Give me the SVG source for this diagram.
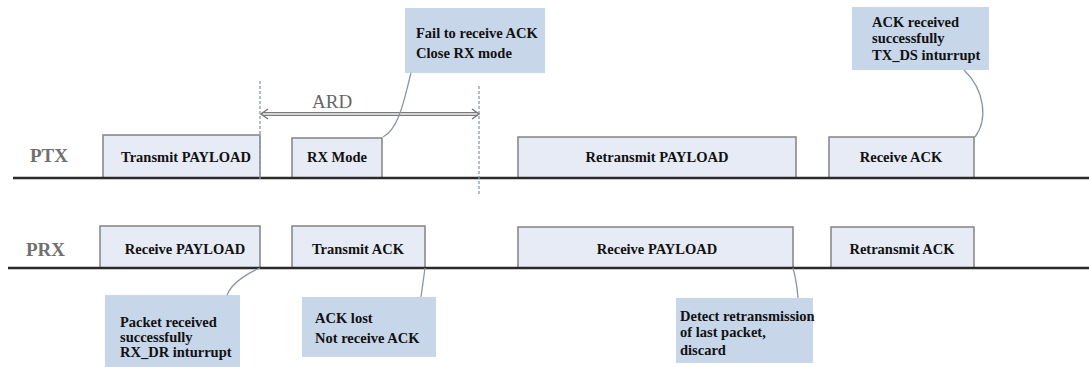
<svg xmlns="http://www.w3.org/2000/svg" width="1089" height="367" viewBox="0 0 1089 367">
<style>
.bg{fill:#ffffff}
.base{stroke:#2a2a2a;stroke-width:2.5;fill:none}
.box{fill:#e6ebf5;stroke:#8a8a8a;stroke-width:1.6}
.call{fill:#c8d6ea;stroke:none}
.lead{fill:none;stroke:#8a96a6;stroke-width:1.3}
.dash{stroke:#8a9aaa;stroke-width:1.3;stroke-dasharray:3,2;fill:none}
.t{font-family:'Liberation Serif','Times New Roman',serif;font-weight:bold;font-size:14.5px;fill:#111}
.lbl{font-family:'Liberation Serif','Times New Roman',serif;font-size:19px;fill:#666}
.row{font-family:'Liberation Serif','Times New Roman',serif;font-size:19px;font-weight:bold;fill:#707070}
</style>
<rect class="bg" x="0" y="0" width="1089" height="367"/>

<g id="labels">
<text class="row" x="30" y="162">PTX</text>
<text class="row" x="26" y="256">PRX</text>
<text class="lbl" x="312" y="108">ARD</text>
</g>

<g id="ptx-tx-payload">
<rect class="box" x="103" y="135" width="157" height="43"/>
<text class="t" x="186" y="162" text-anchor="middle">Transmit PAYLOAD</text>
</g>
<g id="ptx-rx-mode">
<rect class="box" x="292" y="138" width="90" height="40"/>
<text class="t" x="337" y="162" text-anchor="middle">RX Mode</text>
</g>
<g id="ptx-retx-payload">
<rect class="box" x="518" y="137" width="278" height="41"/>
<text class="t" x="657" y="162" text-anchor="middle">Retransmit PAYLOAD</text>
</g>
<g id="ptx-rx-ack">
<rect class="box" x="829" y="137" width="145" height="41"/>
<text class="t" x="901" y="162" text-anchor="middle">Receive ACK</text>
</g>

<g id="prx-rx-payload">
<rect class="box" x="100" y="226" width="160" height="42"/>
<text class="t" x="185" y="254" text-anchor="middle">Receive PAYLOAD</text>
</g>
<g id="prx-tx-ack">
<rect class="box" x="292" y="226" width="133" height="42"/>
<text class="t" x="358" y="254" text-anchor="middle">Transmit ACK</text>
</g>
<g id="prx-rx-payload2">
<rect class="box" x="518" y="227" width="275" height="41"/>
<text class="t" x="657" y="254" text-anchor="middle">Receive PAYLOAD</text>
</g>
<g id="prx-retx-ack">
<rect class="box" x="831" y="227" width="143" height="41"/>
<text class="t" x="902" y="254" text-anchor="middle">Retransmit ACK</text>
</g>

<g id="callout-fail">
<rect class="call" x="405" y="8" width="140" height="65"/>
<text class="t" x="416" y="38">Fail to receive ACK</text>
<text class="t" x="416" y="58">Close RX mode</text>
</g>
<g id="callout-ack-ok">
<rect class="call" x="852" y="7" width="137" height="63"/>
<text class="t" x="872" y="27">ACK received</text>
<text class="t" x="872" y="43">successfully</text>
<text class="t" x="872" y="60">TX_DS inturrupt</text>
</g>
<g id="callout-pkt-ok">
<rect class="call" x="105" y="295" width="135" height="72"/>
<text class="t" x="120" y="327">Packet received</text>
<text class="t" x="120" y="342">successfully</text>
<text class="t" x="120" y="357">RX_DR inturrupt</text>
</g>
<g id="callout-ack-lost">
<rect class="call" x="302" y="297" width="134" height="60"/>
<text class="t" x="315" y="323">ACK lost</text>
<text class="t" x="315" y="343">Not receive ACK</text>
</g>
<g id="callout-detect">
<rect class="call" x="676" y="298" width="137" height="65"/>
<text class="t" x="680" y="321">Detect retransmission</text>
<text class="t" x="680" y="337">of last packet,</text>
<text class="t" x="680" y="355">discard</text>
</g>

<g id="connectors">
<line class="base" x1="13" y1="178" x2="1089" y2="178"/>
<line class="base" x1="8" y1="268" x2="1089" y2="268"/>
<line class="dash" x1="260" y1="81" x2="260" y2="180"/>
<line class="dash" x1="479" y1="86" x2="479" y2="196"/>
<path d="M262 114 L478 114" stroke="#7a7a7a" stroke-width="4" fill="none"/>
<path d="M262 114 L478 114" stroke="#f4f4f4" stroke-width="1.5" fill="none"/>
<path d="M268 109 L261 114 L268 119" stroke="#7a7a7a" stroke-width="1.5" fill="none"/>
<path d="M472 109 L479 114 L472 119" stroke="#7a7a7a" stroke-width="1.5" fill="none"/>
<path class="lead" d="M411 73 C405 95 400 128 383 137"/>
<path class="lead" d="M964 70 C985 90 988 120 975 137"/>
<path class="lead" d="M227 295 C232 282 250 272 260 268"/>
<path class="lead" d="M421 297 L425 268"/>
<path class="lead" d="M798 298 C797 285 795 275 793 268"/>
</g>
</svg>
